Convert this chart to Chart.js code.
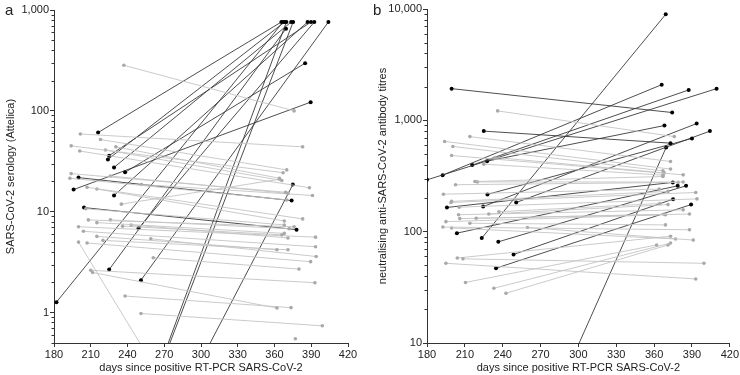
<!DOCTYPE html>
<html>
<head>
<meta charset="utf-8">
<script src="https://cdn.jsdelivr.net/npm/chart.js@4"></script>
<style>
  body { margin: 0; background: #fff; width: 740px; height: 375px; position: relative; overflow: hidden; font-family: "Liberation Sans", Arial, sans-serif; }
  canvas { position: absolute; top: 0; }
  #ca { left: 0; }
  #cb { left: 370px; }
  .tag { position: absolute; font-size: 15px; color: #222; }
</style>
</head>
<body>
<canvas id="ca" width="370" height="375"></canvas>
<canvas id="cb" width="370" height="375"></canvas>
<div class="tag" style="left:5px;top:1px">a</div>
<div class="tag" style="left:373px;top:1px">b</div>
<script>
// Panel a - serologia (Attelica), linhas pretas = subida / linhas cinza = queda
const aBlackDay0 = [216, 225, 224, 229, 238, 200, 196, 229, 204.5, 249, 225, 251, 182, 262, 285, 271];
const aBlackVal0 = [61, 36, 33, 27.5, 24.6, 21.8, 16.6, 14.5, 11, 6.85, 2.67, 2.1, 1.27, 0.2, 0.15, 0.42];
const aBlackDay1 = [365.6, 389.8, 368.3, 373.6, 385, 374, 389.5, 387, 378, 392.5, 369.4, 404, 367, 375.2, 375, 369.7];
const aBlackVal1 = [760, 760, 760, 760, 297, 12.9, 122, 760, 6.65, 760, 653, 760, 760, 760, 18.6, 760];

const aGrayDay0 = [237, 201.5, 218, 194, 230.5, 222, 201, 194, 226, 193, 251.5, 207, 215, 235, 206, 208,
  226, 215, 243, 236, 200, 204, 215, 220, 259, 207, 261, 210, 211.5, 238, 251, 200];
const aGrayVal0 = [283, 59, 52, 45, 44, 41, 40, 23.9, 22.6, 21.5, 18.6, 17.5, 16.8, 11.9, 10.7, 8.3,
  8.3, 7.8, 7.4, 7.2, 7.1, 6.4, 5.7, 5.2, 5.4, 4.9, 3.5, 2.63, 2.5, 1.46, 0.98, 5.0];
const aGrayDay1 = [376, 383, 370, 367, 364, 366, 388.5, 369, 371, 370, 391, 383, 368, 364, 368, 376,
  372, 368, 371, 366, 393.5, 393.5, 362, 371, 394, 389.5, 380, 393, 362, 373.5, 399, 270];
const aGrayVal1 = [100, 44, 26, 24.4, 21.5, 20.4, 17.3, 15.6, 15.2, 13.1, 14.5, 8.5, 8.1, 21, 7.4, 7.1,
  6.8, 6.1, 5.5, 5.9, 5.6, 4.5, 4.2, 4.2, 3.6, 3.2, 2.7, 1.98, 1.11, 1.12, 0.74, 0.2];
const aLoneDay = [377];
const aLoneVal = [0.55];

// Panel b - títulos neutralizantes
const bBlackDay0 = [180, 192.4, 215.8, 227.6, 199.5, 225, 223.4, 195.8, 227.9, 224.5, 250.7, 203.7, 236.5, 248.6, 234.7, 285];
const bBlackVal0 = [292, 322, 396, 430, 1926, 800, 87.5, 165, 216, 168, 183, 97, 81, 62.4, 47, 4];
const bBlackDay1 = [409.5, 366, 387.4, 368.2, 374.3, 373, 369.2, 374.8, 390, 393.7, 404.2, 378.7, 385.3, 375, 389.3, 369.5];
const bBlackVal1 = [1926, 2090, 1875, 898, 1175, 624, 8960, 277, 688, 935, 800, 258, 258, 196, 175, 570];

const bGrayDay0 = [236, 214, 194, 200.5, 199.5, 234, 225, 218, 220, 202.6, 193, 199.5, 199, 205.5, 237,
  229, 205, 219, 206, 195, 214, 192.6, 259.6, 199.5, 195, 208.5, 204, 210.5, 233, 242.6];
const bGrayVal0 = [1216, 714, 646, 582, 483, 464, 404, 282, 280, 264, 217, 187, 183, 166, 151,
  144, 142, 132, 131, 123, 119, 110, 109, 108, 52, 57, 58, 35, 31, 28];
const bGrayDay1 = [376, 373, 373, 367, 383, 368, 367, 367, 383, 379, 364, 371, 393, 394, 364.5,
  371, 383, 388, 368, 369, 369, 388, 391, 377, 393, 399.5, 373, 362, 373, 371];
const bGrayVal1 = [714, 427, 365, 352, 324, 337, 322, 313, 279, 277, 241, 230, 225, 197, 179,
  175, 157, 144, 143, 142, 115, 104, 84, 86, 37.6, 52, 91, 76, 79, 76];

const xTitulo = 'days since positive RT-PCR SARS-CoV-2';
const FONTE = '"Liberation Sans", Arial, sans-serif';

// monta um dataset por par de pontos
function pares(d0, v0, d1, v1, cor, corPonto, largura, raio) {
  return d0.map((d, i) => ({
    data: [{ x: d, y: v0[i] }, { x: d1[i], y: v1[i] }],
    showLine: true,
    borderColor: cor,
    borderWidth: largura,
    pointRadius: raio,
    pointBackgroundColor: corPonto,
    pointBorderWidth: 0
  }));
}

// tracinhos menores do eixo log
const minorTicks = {
  id: 'minorTicks',
  afterDraw(chart) {
    const y = chart.scales.y;
    const ctx = chart.ctx;
    ctx.save();
    ctx.strokeStyle = '#333';
    ctx.lineWidth = 1;
    for (let d = Math.pow(10, Math.floor(Math.log10(y.min))); d < y.max; d *= 10) {
      for (let m = 2; m <= 9; m++) {
        const v = d * m;
        if (v < y.min * 0.999 || v > y.max) continue;
        const py = Math.round(y.getPixelForValue(v)) + 0.5;
        ctx.beginPath();
        ctx.moveTo(y.right - 2.5, py);
        ctx.lineTo(y.right, py);
        ctx.stroke();
      }
    }
    ctx.restore();
  }
};

function grafico(id, datasets, yMin, yMax, decadas, yTitulo, larguraY, pad, tituloPad) {
  const ctx = document.getElementById(id).getContext('2d');
  return new Chart(ctx, {
    type: 'scatter',
    data: { datasets: datasets },
    plugins: [minorTicks],
    options: {
      responsive: false,
      animation: false,
      layout: { padding: pad },
      plugins: { legend: { display: false }, tooltip: { enabled: false } },
      scales: {
        x: {
          type: 'linear',
          min: 180,
          max: 420,
          afterFit: s => { s.height = 32; },
          ticks: { stepSize: 30, padding: 1, color: '#222', font: { family: FONTE, size: 11 } },
          grid: { drawOnChartArea: false, drawTicks: true, tickLength: 4, color: '#333' },
          border: { color: '#333', width: 1 },
          title: { display: true, text: xTitulo, color: '#222', padding: { top: 0, bottom: 0 }, font: { family: FONTE, size: 11 } }
        },
        y: {
          type: 'logarithmic',
          min: yMin,
          max: yMax,
          afterFit: s => { s.width = larguraY; },
          afterBuildTicks: s => { s.ticks = decadas.map(v => ({ value: v })); },
          ticks: {
            padding: 1,
            color: '#222',
            font: { family: FONTE, size: 11 },
            callback: v => v.toLocaleString('en-US')
          },
          grid: { drawOnChartArea: false, drawTicks: true, tickLength: 4, color: '#333' },
          border: { color: '#333', width: 1 },
          title: { display: true, text: yTitulo, color: '#222', padding: { top: tituloPad, bottom: 0 }, font: { family: FONTE, size: 11 } }
        }
      }
    }
  });
}

const cinzaLinha = '#c4c4c4';
const cinzaPonto = '#a9a9a9';
const pretoLinha = '#3a3a3a';
const pretoPonto = '#000';

const dsA = [].concat(
  pares(aGrayDay0, aGrayVal0, aGrayDay1, aGrayVal1, cinzaLinha, cinzaPonto, 0.9, 1.8),
  [{ data: aLoneDay.map((d, i) => ({ x: d, y: aLoneVal[i] })), showLine: false, pointRadius: 1.8, pointBackgroundColor: cinzaPonto, pointBorderWidth: 0 }],
  pares(aBlackDay0, aBlackVal0, aBlackDay1, aBlackVal1, pretoLinha, pretoPonto, 0.9, 2)
);
const dsB = [].concat(
  pares(bGrayDay0, bGrayVal0, bGrayDay1, bGrayVal1, cinzaLinha, cinzaPonto, 0.9, 1.8),
  pares(bBlackDay0, bBlackVal0, bBlackDay1, bBlackVal1, pretoLinha, pretoPonto, 0.9, 2)
);

grafico('ca', dsA, 0.5, 1000, [1, 10, 100, 1000], 'SARS-CoV-2 serology (Attelica)', 54, { top: 10, right: 22, bottom: 0, left: 0 }, 4);
grafico('cb', dsB, 10, 10000, [10, 100, 1000, 10000], 'neutralising anti-SARS-CoV-2 antibody titres', 57, { top: 9, right: 6, bottom: 0, left: 0 }, 6);
</script>
</body>
</html>
